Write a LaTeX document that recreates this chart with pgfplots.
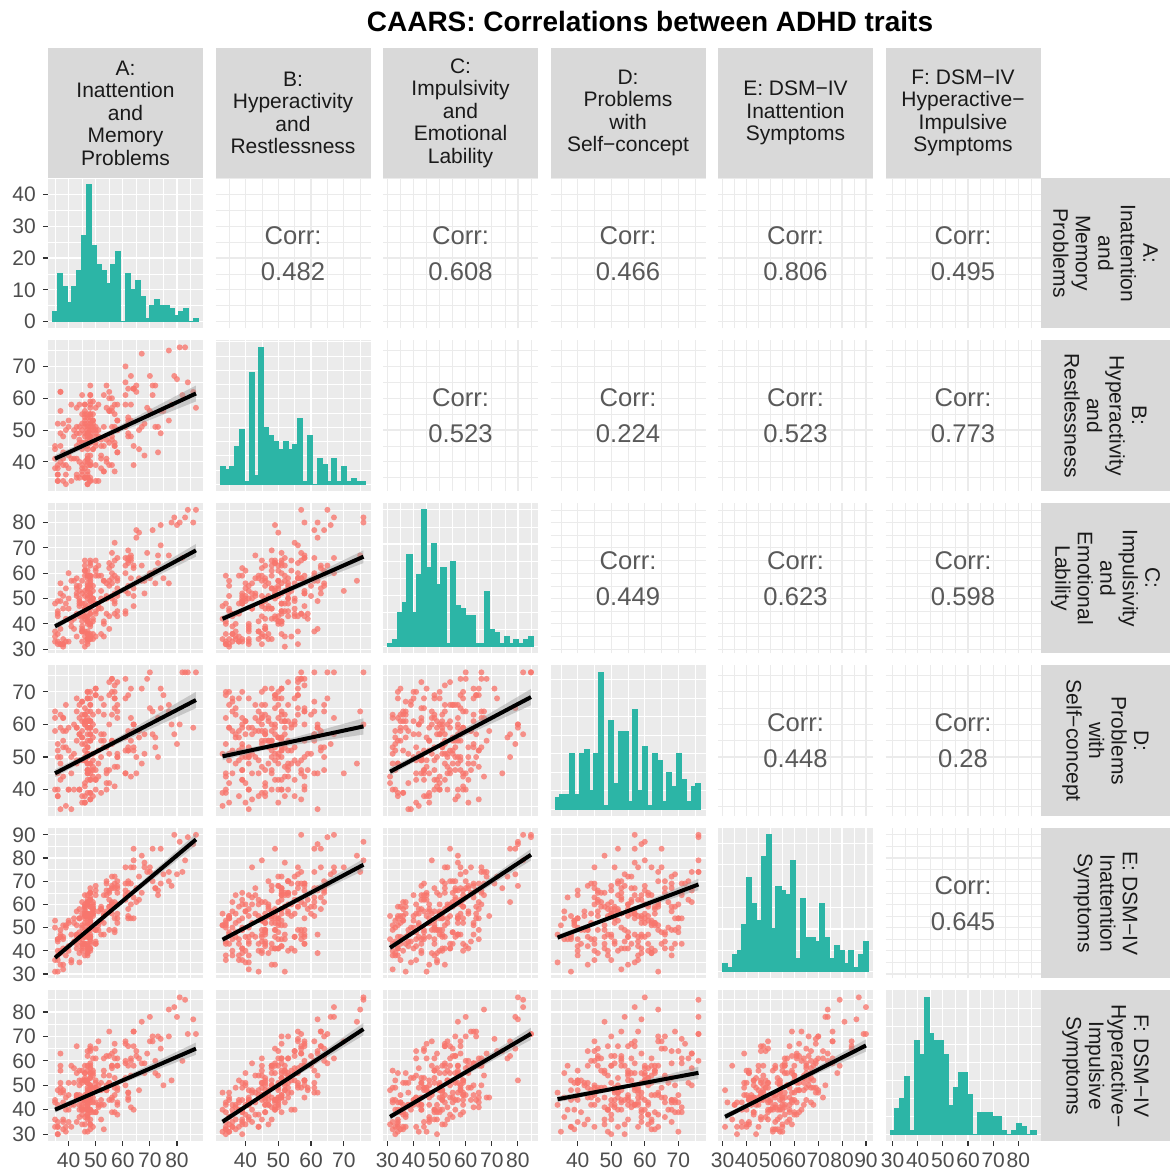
\documentclass[border=0pt]{standalone}
\usepackage{fontspec}
\setmainfont{Liberation Sans}
\usepackage{pgfplots}
\usepackage{pgfplotstable}
\pgfplotsset{compat=1.18}
\definecolor{bgc}{HTML}{EBEBEB}
\definecolor{stripc}{HTML}{D9D9D9}
\definecolor{tickc}{HTML}{333333}
\definecolor{labc}{HTML}{4D4D4D}
\definecolor{ptc}{HTML}{F8766D}
\definecolor{histc}{RGB}{44,181,166}
\definecolor{corrc}{HTML}{595959}
\definecolor{bandc}{HTML}{999999}
\definecolor{striptxt}{HTML}{1A1A1A}

\pgfplotstableread{
A B C D E F
47 33 34 39 51 40
38 48 46 55 34 36
56 48 63 54 68 58
45 52 48 63 51 56
62 53 55 52 70 47
48 48 34 55 41 55
35 45 48 62 53 36
51 34 59 44 52 42
71 64 60 64 70 70
46 54 53 60 60 52
47 37 34 48 46 36
43 51 52 64 51 46
57 46 49 41 49 39
48 49 64 57 56 59
64 63 63 53 63 72
40 42 46 59 52 35
53 51 41 53 56 61
47 35 34 70 54 31
36 52 45 38 31 48
50 48 59 40 66 52
49 55 50 60 56 55
66 44 58 58 62 48
46 56 37 63 59 55
58 43 58 50 56 38
37 40 56 50 46 51
48 50 40 68 41 44
44 58 53 40 54 52
77 53 56 66 70 70
47 40 54 61 60 38
55 60 55 51 59 62
52 38 59 68 59 44
41 41 39 34 35 42
48 61 58 57 67 49
61 51 44 52 64 53
45 44 37 61 43 38
47 33 47 51 56 47
39 50 54 66 41 45
54 64 56 46 66 62
73 51 64 50 66 70
48 54 35 59 55 40
46 38 48 49 38 40
57 55 72 68 72 64
36 34 32 40 38 35
63 67 66 62 76 61
47 41 34 68 38 43
50 50 61 43 68 49
42 41 38 51 44 42
48 52 63 61 47 50
68 52 57 57 78 55
55 56 64 69 59 72
49 44 34 38 55 33
38 41 32 53 32 43
47 48 54 46 55 58
62 49 64 69 54 44
44 49 43 49 58 40
56 57 58 74 61 63
46 35 31 42 55 34
80 66 79 54 73 78
48 39 59 59 62 39
51 48 46 52 57 50
37 62 49 59 39 63
58 50 43 50 68 42
47 46 55 55 48 52
45 36 39 67 50 40
65 64 77 50 61 62
52 47 46 55 58 42
43 49 54 59 41 55
48 47 34 48 59 34
70 67 60 76 74 78
46 35 46 36 54 37
50 45 62 58 44 49
35 41 33 40 50 44
61 65 63 68 69 59
47 35 32 51 43 44
56 56 60 74 67 57
40 51 60 40 42 46
48 34 36 39 53 32
74 56 71 71 69 69
49 59 42 51 58 49
53 45 57 66 47 54
47 42 46 45 60 47
36 39 49 50 36 30
57 58 52 72 69 67
46 58 59 41 43 52
64 45 47 60 79 58
48 51 40 61 53 53
41 34 41 45 36 33
84 65 85 76 89 71
45 50 41 36 45 45
55 62 57 60 66 54
47 39 33 46 39 49
38 43 51 58 46 47
62 48 69 58 55 45
50 51 45 71 64 61
48 39 49 43 49 36
67 74 57 48 81 76
44 40 49 57 35 42
54 47 51 53 70 48
46 46 63 63 52 46
72 51 56 56 67 55
49 50 55 56 61 43
37 45 32 63 40 56
58 53 45 47 65 49
47 49 51 53 41 44
43 35 51 59 47 45
63 53 58 55 60 54
48 64 55 66 65 65
52 45 36 39 53 51
39 39 48 53 50 40
78 58 80 60 68 52
46 53 43 61 64 53
56 47 56 55 60 44
47 50 41 70 48 64
36 38 44 38 45 33
61 61 60 45 63 60
48 35 57 59 54 47
45 55 43 49 40 40
69 57 68 74 74 63
50 57 44 46 49 65
53 37 40 57 64 42
47 49 50 68 49 40
42 50 57 40 54 51
64 39 51 60 54 40
48 55 49 61 65 57
38 52 31 44 45 48
57 45 59 70 54 46
46 40 61 36 57 55
75 56 58 69 73 50
49 52 53 47 59 56
51 58 47 64 49 68
47 49 53 51 52 41
35 44 37 64 31 33
55 39 62 46 65 44
48 46 46 39 52 45
44 46 50 57 54 50
62 63 52 57 58 66
47 36 36 64 61 38
81 76 80 60 87 86
45 39 52 54 41 34
58 53 54 73 70 61
50 39 48 43 49 51
37 56 32 48 49 49
48 40 51 61 40 34
66 50 76 56 72 61
46 58 43 65 43 45
54 41 50 40 64 48
43 45 35 55 46 46
71 61 77 57 84 68
47 45 43 62 39 51
56 51 68 55 72 45
48 34 40 70 50 43
40 53 50 40 40 51
61 70 53 45 76 68
47 41 37 59 46 37
36 36 43 45 45 42
63 48 65 71 54 41
49 53 48 46 57 61
52 42 50 57 47 48
45 61 37 67 61 51
86 62 80 59 86 77
46 51 65 52 58 45
57 37 44 65 48 49
48 53 52 48 65 55
38 39 34 62 41 35
65 62 74 45 67 64
47 46 42 57 56 42
51 50 63 48 51 41
42 48 42 60 52 57
73 43 67 62 64 54
55 56 43 73 62 51
48 55 44 43 46 64
39 33 42 35 51 31
58 58 66 64 60 58
47 41 40 50 55 44
44 47 47 62 39 46
64 63 54 52 84 66
46 45 51 54 49 44
50 49 65 69 49 43
68 42 52 51 76 59
53 61 57 55 55 56
47 47 36 61 55 42
37 49 52 43 34 58
56 39 50 70 60 39
48 57 65 37 45 58
45 37 37 56 56 41
62 52 66 53 65 58
49 51 36 63 58 39
77 75 67 64 74 81
43 36 44 68 57 35
57 45 65 47 61 61
46 55 46 38 46 52
36 34 33 54 44 30
61 51 45 56 62 67
48 61 59 64 59 47
47 44 59 45 40 46
70 56 58 65 76 68
50 34 48 69 43 39
54 57 44 45 69 49
41 58 57 50 47 58
58 43 52 66 67 43
47 54 61 48 41 56
38 34 32 62 51 32
63 58 67 44 69 60
45 38 33 56 43 52
48 59 44 46 62 48
67 51 63 71 65 59
46 48 61 50 56 58
82 61 66 76 74 60
49 53 50 44 56 45
55 46 38 42 49 51
47 52 59 59 64 51
43 41 55 48 43 45
57 51 48 68 67 53
48 48 54 45 43 50
40 38 33 52 53 40
61 58 66 74 66 50
44 51 48 40 45 56
74 49 79 65 84 65
46 49 42 60 46 44
52 41 53 50 58 36
48 46 39 66 44 53
37 62 38 34 47 47
58 50 57 62 52 58
47 46 58 46 61 48
39 36 33 58 38 33
64 63 62 58 76 72
50 46 35 71 43 39
79 67 82 57 90 82
45 46 57 38 47 44
56 60 51 63 56 58
46 35 45 49 55 31
35 38 35 58 36 43
62 54 65 52 69 47
48 58 52 55 46 66
44 35 55 66 48 37
72 64 61 53 67 60
47 55 56 53 62 62
53 37 35 63 52 32
49 44 41 49 60 54
83 76 82 76 79 85
48 42 56 37 63 40
36 36 36 52 40 33
58 50 51 51 54 48
46 52 35 61 59 43
43 57 58 49 47 66
87 57 85 76 90 71
47 51 41 43 42 45
54 40 50 42 57 50
45 46 38 58 42 42
}\data

\pgfplotsset{
  base/.style={scale only axis, width=77.5pt, height=75.25pt, anchor=south west,
    axis line style={draw=none},
    clip marker paths=true,
    tick align=outside, major tick length=2.6pt, minor tick length=0pt,
    xtick pos=bottom, ytick pos=left,
    xtick style={draw=none}, ytick style={draw=none},
    grid=both,
    xticklabels={}, yticklabels={},
    ticklabel style={font=\fontsize{10.5}{12}\selectfont, text=labc},
    /pgf/number format/assume math mode=true},
  gg/.style={base, axis background/.style={fill=bgc},
    major grid style={white, line width=0.6pt},
    minor grid style={white, line width=0.3pt}},
  cor/.style={base,
    major grid style={bgc, line width=0.6pt},
    minor grid style={bgc, line width=0.3pt}},
  showxt/.style={xtick style={draw=tickc, line width=0.55pt}},
  showyt/.style={ytick style={draw=tickc, line width=0.55pt}},
  xA/.style={xmin=32.4, xmax=89.6, xtick={40,50,60,70,80}, minor xtick={35,45,55,65,75,85}},
  xB/.style={xmin=30.85, xmax=78.15, xtick={40,50,60,70}, minor xtick={35,45,55,65,75}},
  xC/.style={xmin=28.3, xmax=87.7, xtick={30,40,50,60,70,80}, minor xtick={35,45,55,65,75,85}},
  xD/.style={xmin=31.9, xmax=78.1, xtick={40,50,60,70}, minor xtick={35,45,55,65,75}},
  xE/.style={xmin=28.05, xmax=92.95, xtick={30,40,50,60,70,80,90}, minor xtick={35,45,55,65,75,85}},
  xF/.style={xmin=27.2, xmax=88.8, xtick={30,40,50,60,70,80}, minor xtick={35,45,55,65,75,85}},
  yB/.style={ymin=30.85, ymax=78.15, ytick={40,50,60,70}, minor ytick={35,45,55,65,75}},
  yC/.style={ymin=28.3, ymax=87.7, ytick={30,40,50,60,70,80}, minor ytick={35,45,55,65,75,85}},
  yD/.style={ymin=31.9, ymax=78.1, ytick={40,50,60,70}, minor ytick={35,45,55,65,75}},
  yE/.style={ymin=28.05, ymax=92.95, ytick={30,40,50,60,70,80,90}, minor ytick={35,45,55,65,75,85}},
  yF/.style={ymin=27.2, ymax=88.8, ytick={30,40,50,60,70,80}, minor ytick={35,45,55,65,75,85}},
  yHA/.style={ymin=-2.15, ymax=45.15, ytick={0,10,20,30,40}, minor ytick={5,15,25,35,45}},
  yHB/.style={ymin=-2.4, ymax=50.4, ytick={0,10,20,30,40,50}, minor ytick={5,15,25,35,45}},
  yHC/.style={ymin=-2, ymax=42, ytick={0,10,20,30,40}, minor ytick={5,15,25,35}},
  yHD/.style={ymin=-1.85, ymax=38.85, ytick={0,10,20,30}, minor ytick={5,15,25,35}},
  yHE/.style={ymin=-1.6, ymax=33.6, ytick={0,10,20,30}, minor ytick={5,15,25}},
  yHF/.style={ymin=-1.9, ymax=39.9, ytick={0,10,20,30}, minor ytick={5,15,25,35}},
  labxA/.style={showxt, xticklabels={40,50,60,70,80}},
  labxB/.style={showxt, xticklabels={40,50,60,70}},
  labxC/.style={showxt, xticklabels={30,40,50,60,70,80}},
  labxD/.style={showxt, xticklabels={40,50,60,70}},
  labxE/.style={showxt, xticklabels={30,40,50,60,70,80,90}},
  labxF/.style={showxt, xticklabels={30,40,50,60,70,80}},
  labyB/.style={showyt, yticklabels={40,50,60,70}},
  labyC/.style={showyt, yticklabels={30,40,50,60,70,80}},
  labyD/.style={showyt, yticklabels={40,50,60,70}},
  labyE/.style={showyt, yticklabels={30,40,50,60,70,80,90}},
  labyF/.style={showyt, yticklabels={30,40,50,60,70,80}},
  histplot/.style={ybar interval, fill=histc, draw=histc, line width=0.6pt},
}

\newcommand{\scat}[6]{%
  \begin{axis}[gg, at={(#1,#2)}, x#3, y#4, #5]
    \addplot[only marks, color=ptc, mark=*, mark size=1.5pt, mark options={fill=ptc, fill opacity=0.78, draw opacity=0}] table[x=#3, y=#4] {\data};
    #6
  \end{axis}}
\newcommand{\fit}[2]{%
  \addplot[fill=bandc, fill opacity=0.45, draw=none, mark=none] coordinates {#1} -- cycle;
  \addplot[black, solid, mark=none, line width=2pt] coordinates {#2};}
\newcommand{\corr}[5]{%
  \begin{axis}[cor, at={(#1,#2)}, x#3, #4]
    \addplot[draw=none] coordinates {(50,50)};
    \node[font=\fontsize{12.8}{18}\selectfont, text=corrc, align=center] at (rel axis cs:0.5,0.5) {Corr:\\#5};
  \end{axis}}

\begin{document}
\begin{tikzpicture}
\useasboundingbox (0,0) rectangle (588pt,585.5pt);

\node[font=\bfseries\fontsize{14}{16}\selectfont, text=black] at (325pt,574.5pt) {CAARS: Correlations between ADHD traits};

\foreach \cx/\txt in {24/{A:\\Inattention\\and\\Memory\\Problems}, 107.75/{B:\\Hyperactivity\\and\\Restlessness}, 191.5/{C:\\Impulsivity\\and\\Emotional\\Lability}, 275.25/{D:\\Problems\\with\\Self−concept}, 359/{E: DSM−IV\\Inattention\\Symptoms}, 442.75/{F: DSM−IV\\Hyperactive−\\Impulsive\\Symptoms}}{
  \fill[stripc] (\cx pt,496.5pt) rectangle ++(77.5pt,65pt);
  \node[align=center, font=\fontsize{10.5}{11.25}\selectfont, text=striptxt] at (\cx pt+38.75pt,529pt) {\txt};
}
\foreach \ry/\txt in {421.25/{A:\\Inattention\\and\\Memory\\Problems}, 340/{B:\\Hyperactivity\\and\\Restlessness}, 258.75/{C:\\Impulsivity\\and\\Emotional\\Lability}, 177.5/{D:\\Problems\\with\\Self−concept}, 96.25/{E: DSM−IV\\Inattention\\Symptoms}, 15/{F: DSM−IV\\Hyperactive−\\Impulsive\\Symptoms}}{
  \fill[stripc] (520.5pt,\ry pt) rectangle ++(64.5pt,75.25pt);
  \node[align=center, rotate=-90, font=\fontsize{10.5}{11.25}\selectfont, text=striptxt] at (552.75pt,\ry pt+37.625pt) {\txt};
}

% ---------- Row A ----------
\begin{axis}[gg, at={(24pt,421.25pt)}, xA, yHA, showyt, yticklabels={0,10,20,30,40}]
\addplot[histplot] coordinates {(34.10,3) (35.90,15) (37.69,11) (39.48,6) (41.28,11) (43.07,16) (44.86,27) (46.66,43) (48.45,24) (50.24,18) (52.03,16) (53.83,12) (55.62,18) (57.41,22) (59.21,0) (61.00,15) (62.79,10) (64.59,13) (66.38,8) (68.17,1) (69.97,5) (71.76,7) (73.55,5) (75.34,5) (77.14,4) (78.93,2) (80.72,3) (82.52,4) (84.31,0) (86.10,1) (87.90,1)};
\end{axis}
\corr{107.75pt}{421.25pt}{B}{yHA}{0.482}
\corr{191.5pt}{421.25pt}{C}{yHA}{0.608}
\corr{275.25pt}{421.25pt}{D}{yHA}{0.466}
\corr{359pt}{421.25pt}{E}{yHA}{0.806}
\corr{442.75pt}{421.25pt}{F}{yHA}{0.495}

% ---------- Row B ----------
\scat{24pt}{340pt}{A}{B}{labyB}{\fit{(35,42.2) (52,48.4) (87,64.0) (87,59.0) (52,47.0) (35,39.8)}{(35,41) (87,61.5)}}
\begin{axis}[gg, at={(107.75pt,340pt)}, xB, yHB]
\addplot[histplot] coordinates {(32.26,6) (33.74,5) (35.22,6) (36.71,13) (38.19,19) (39.67,1) (41.16,39) (42.64,3) (44.12,48) (45.60,20) (47.09,17) (48.57,15) (50.05,12) (51.53,15) (53.02,12) (54.50,14) (55.98,23) (57.47,1) (58.95,17) (60.43,0) (61.91,9) (63.40,7) (64.88,1) (66.36,9) (67.84,1) (69.33,6) (70.81,1) (72.29,2) (73.78,1) (75.26,1) (76.74,1)};
\end{axis}
\corr{191.5pt}{340pt}{C}{yB}{0.523}
\corr{275.25pt}{340pt}{D}{yB}{0.224}
\corr{359pt}{340pt}{E}{yB}{0.523}
\corr{442.75pt}{340pt}{F}{yB}{0.773}

% ---------- Row C ----------
\scat{24pt}{258.75pt}{A}{C}{labyC}{\fit{(35,40.2) (52,49.5) (87,71.5) (87,66.5) (52,48.1) (35,37.8)}{(35,39) (87,69)}}
\scat{107.75pt}{258.75pt}{B}{C}{}{\fit{(33,43.2) (48,51.3) (76,69.0) (76,64.0) (48,49.9) (33,40.8)}{(33,42) (76,66.5)}}
\begin{axis}[gg, at={(191.5pt,258.75pt)}, xC, yHC]
\addplot[histplot] coordinates {(30.07,1) (31.93,2) (33.79,10) (35.66,13) (37.52,27) (39.38,10) (41.24,21) (43.10,40) (44.97,23) (46.83,30) (48.69,18) (50.55,23) (52.41,1) (54.28,25) (56.14,12) (58.00,11) (59.86,9) (61.72,9) (63.59,1) (65.45,1) (67.31,16) (69.17,5) (71.03,4) (72.90,1) (74.76,3) (76.62,1) (78.48,2) (80.35,1) (82.21,2) (84.07,3) (85.93,3)};
\end{axis}
\corr{275.25pt}{258.75pt}{D}{yC}{0.449}
\corr{359pt}{258.75pt}{E}{yC}{0.623}
\corr{442.75pt}{258.75pt}{F}{yC}{0.598}

% ---------- Row D ----------
\scat{24pt}{177.5pt}{A}{D}{labyD}{\fit{(35,46.2) (52,53.1) (87,70.0) (87,65.0) (52,51.7) (35,43.8)}{(35,45) (87,67.5)}}
\scat{107.75pt}{177.5pt}{B}{D}{}{\fit{(33,51.4) (48,54.1) (76,61.9) (76,56.9) (48,52.7) (33,49.0)}{(33,50.2) (76,59.4)}}
\scat{191.5pt}{177.5pt}{C}{D}{}{\fit{(31,46.7) (50,54.3) (85,70.9) (85,65.9) (50,52.9) (31,44.3)}{(31,45.5) (85,68.4)}}
\begin{axis}[gg, at={(275.25pt,177.5pt)}, xD, yHD]
\addplot[histplot] coordinates {(33.28,3) (34.72,4) (36.17,4) (37.62,15) (39.07,4) (40.52,15) (41.97,16) (43.41,5) (44.86,15) (46.31,37) (47.76,1) (49.21,24) (50.66,7) (52.10,21) (53.55,21) (55.00,2) (56.45,27) (57.90,5) (59.34,17) (60.79,1) (62.24,15) (63.69,13) (65.14,2) (66.59,10) (68.03,6) (69.48,15) (70.93,8) (72.38,2) (73.83,6) (75.28,7) (76.72,7)};
\end{axis}
\corr{359pt}{177.5pt}{E}{yD}{0.448}
\corr{442.75pt}{177.5pt}{F}{yD}{0.28}

% ---------- Row E ----------
\scat{24pt}{96.25pt}{A}{E}{labyE}{\fit{(35,38.2) (52,54.4) (87,90.5) (87,85.5) (52,53.0) (35,35.8)}{(35,37) (87,88)}}
\scat{107.75pt}{96.25pt}{B}{E}{}{\fit{(33,46.0) (48,56.8) (76,79.6) (76,74.6) (48,55.4) (33,43.6)}{(33,44.8) (76,77.1)}}
\scat{191.5pt}{96.25pt}{C}{E}{}{\fit{(31,42.5) (50,56.1) (85,83.9) (85,78.9) (50,54.7) (31,40.1)}{(31,41.3) (85,81.4)}}
\scat{275.25pt}{96.25pt}{D}{E}{}{\fit{(34,46.9) (55,57.9) (76,71.1) (76,66.1) (55,56.5) (34,44.5)}{(34,45.7) (76,68.6)}}
\begin{axis}[gg, at={(359pt,96.25pt)}, xE, yHE]
\addplot[histplot] coordinates {(29.98,2) (32.02,1) (34.05,4) (36.09,5) (38.12,11) (40.16,22) (42.19,16) (44.22,12) (46.26,27) (48.29,32) (50.33,10) (52.36,20) (54.40,19) (56.43,18) (58.47,26) (60.50,3) (62.53,17) (64.57,8) (66.60,8) (68.64,7) (70.67,16) (72.71,8) (74.74,3) (76.78,6) (78.81,5) (80.84,2) (82.88,5) (84.91,1) (86.95,4) (88.98,7) (91.02,7)};
\end{axis}
\corr{442.75pt}{96.25pt}{F}{yE}{0.645}

% ---------- Row F ----------
\scat{24pt}{15pt}{A}{F}{labyF, labxA}{\fit{(35,41.2) (52,48.9) (87,67.5) (87,62.5) (52,47.5) (35,38.8)}{(35,40) (87,65)}}
\scat{107.75pt}{15pt}{B}{F}{labxB}{\fit{(33,36.3) (48,49.0) (76,75.5) (76,70.5) (48,47.6) (33,33.9)}{(33,35.1) (76,73)}}
\scat{191.5pt}{15pt}{C}{F}{labxC}{\fit{(31,38.3) (50,49.8) (85,73.6) (85,68.6) (50,48.4) (31,35.9)}{(31,37.1) (85,71.1)}}
\scat{275.25pt}{15pt}{D}{F}{labxD}{\fit{(34,45.5) (55,50.4) (76,57.6) (76,52.6) (55,49.0) (34,43.1)}{(34,44.3) (76,55.1)}}
\scat{359pt}{15pt}{E}{F}{labxE}{\fit{(31,38.3) (56,50.2) (90,68.8) (90,63.8) (56,48.8) (31,35.9)}{(31,37.1) (90,66.3)}}
\begin{axis}[gg, at={(442.75pt,15pt)}, xF, yHF, labxF]
\addplot[histplot] coordinates {(29.03,1) (30.97,7) (32.90,10) (34.83,16) (36.76,1) (38.69,26) (40.62,22) (42.55,38) (44.48,28) (46.41,26) (48.34,26) (50.28,22) (52.21,8) (54.14,13) (56.07,17) (58.00,17) (59.93,11) (61.86,0) (63.79,6) (65.72,6) (67.66,6) (69.59,5) (71.52,5) (73.45,1) (75.38,0) (77.31,1) (79.24,3) (81.17,2) (83.10,0) (85.03,1) (86.97,1)};
\end{axis}

\end{tikzpicture}
\end{document}
